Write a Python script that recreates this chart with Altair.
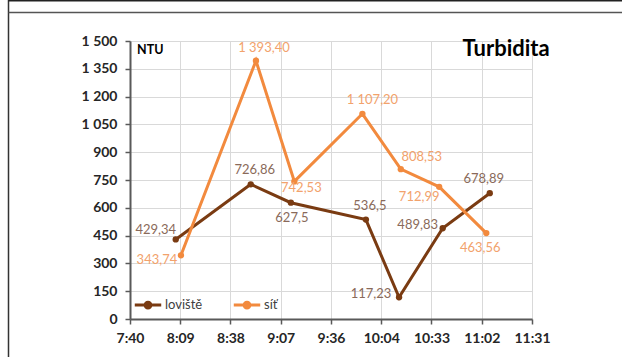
import altair as alt
import pandas as pd

# Sampling times (h:mm) and turbidity readings in NTU
times_loviste = ["8:07", "8:50", "9:13", "9:56", "10:15", "10:40", "11:07"]
values_loviste = [429.34, 726.86, 627.5, 536.5, 117.23, 489.83, 678.89]
labels_loviste = ["429,34", "726,86", "627,5", "536,5", "117,23", "489,83", "678,89"]

times_sit = ["8:10", "8:53", "9:15", "9:54", "10:16", "10:38", "11:05"]
values_sit = [343.74, 1393.40, 742.53, 1107.20, 808.53, 712.99, 463.56]
labels_sit = ["343,74", "1 393,40", "742,53", "1 107,20", "808,53", "712,99", "463,56"]

# Label placement around each point (pixels)
dx_loviste = [-20, 4, 1, 4, -28, -25, -6]
dy_loviste = [-9, -14, 15, -14, -3, -3, -14]
dx_sit = [-24, 8, 7, 10, 21, -20, -6]
dy_sit = [5, -13, 7, -14, -12, 10, 15]

x_tick_labels = ["7:40", "8:09", "8:38", "9:07", "9:36", "10:04", "10:33", "11:02", "11:31"]
y_ticks = [0, 150, 300, 450, 600, 750, 900, 1050, 1200, 1350, 1500]

series_names = ["loviště", "síť"]
series_colors = ["#7a3b12", "#f28a3e"]
label_colors = ["#8a6a5a", "#f2a26c"]


def to_minutes(t):
    h, m = t.split(":")
    return int(h) * 60 + int(m)


rows = []
for name, times, vals, labs in [
    ("loviště", times_loviste, values_loviste, labels_loviste),
    ("síť", times_sit, values_sit, labels_sit),
]:
    for i, (t, v, lab) in enumerate(zip(times, vals, labs)):
        rows.append({"serie": name, "idx": i, "min": to_minutes(t), "ntu": v, "label": lab})
df = pd.DataFrame(rows)

# Time axis: 0.32 .. 0.48 day, major unit 0.02 day (28.8 min)
x_start = 0.32 * 1440
x_step = 0.02 * 1440
x_ticks = [x_start + i * x_step for i in range(len(x_tick_labels))]
label_list = "[" + ",".join(f"'{s}'" for s in x_tick_labels) + "]"

FONT = "Lato"
W, H = 402, 278

axis_style = dict(
    title=None,
    grid=True,
    gridColor="#d9d9d9",
    domainColor="#595959",
    domainWidth=2,
    tickColor="#595959",
    tickWidth=1.5,
    tickSize=5,
    labelFont=FONT,
    labelFontSize=14,
    labelFontWeight="bold",
    labelColor="#262626",
    labelOverlap=False,
    labelFlush=False,
)

x_enc = alt.X(
    "min:Q",
    scale=alt.Scale(domain=[x_ticks[0], x_ticks[-1]], nice=False, zero=False),
    axis=alt.Axis(
        values=x_ticks,
        tickCount=len(x_ticks),
        labelExpr=f"{label_list}[round((datum.value - {x_start}) / {x_step})]",
        labelPadding=7,
        **axis_style,
    ),
)
y_enc = alt.Y(
    "ntu:Q",
    scale=alt.Scale(domain=[0, 1500], nice=False),
    axis=alt.Axis(
        values=y_ticks,
        tickCount=len(y_ticks),
        labelExpr="replace(format(datum.value, ','), ',', ' ')",
        labelPadding=8,
        **axis_style,
    ),
)

color_enc = alt.Color(
    "serie:N",
    scale=alt.Scale(domain=series_names, range=series_colors),
    legend=alt.Legend(
        title=None,
        orient="none",
        legendX=3,
        legendY=249,
        direction="horizontal",
        symbolType="M-1,0H1M-0.22,0A0.22,0.22 0 1,1 0.22,0A0.22,0.22 0 1,1 -0.22,0",
        symbolSize=700,
        symbolStrokeWidth=3,
        labelFont=FONT,
        labelFontSize=13,
        labelColor="#404040",
        labelOffset=2,
        columnPadding=24,
    ),
)

base = alt.Chart(df)

lines = base.mark_line(strokeWidth=3, point=alt.OverlayMarkDef(filled=True, size=40)).encode(
    x=x_enc, y=y_enc, color=color_enc
)

# One text layer per data label, each with its own offset
label_layers = []
for name, col, dxs, dys in [
    ("loviště", label_colors[0], dx_loviste, dy_loviste),
    ("síť", label_colors[1], dx_sit, dy_sit),
]:
    for i, (dx, dy) in enumerate(zip(dxs, dys)):
        label_layers.append(
            base.mark_text(font=FONT, fontSize=13, color=col, dx=dx, dy=dy)
            .encode(x=x_enc, y=y_enc, text="label:N")
            .transform_filter((alt.datum.serie == name) & (alt.datum.idx == i))
        )

one = pd.DataFrame({"k": [0]})

title_text = alt.Chart(one).mark_text(
    font=FONT, fontSize=22, fontWeight="bold", align="center", baseline="alphabetic", color="#000000"
).encode(x=alt.value(376), y=alt.value(15), text=alt.value("Turbidita"))

unit_text = alt.Chart(one).mark_text(
    font=FONT, fontSize=12.5, fontWeight="bold", align="left", baseline="alphabetic", color="#000000"
).encode(x=alt.value(7), y=alt.value(13), text=alt.value("NTU"))

# Outer frame lines of the figure
frame_left = alt.Chart(one).mark_rule(color="#333333", strokeWidth=1.5).encode(
    x=alt.value(-121.5), y=alt.value(-41), y2=alt.value(320)
)
frame_top = alt.Chart(one).mark_rule(color="#222222", strokeWidth=2).encode(
    x=alt.value(-121.5), x2=alt.value(492), y=alt.value(-40.5)
)
frame_head = alt.Chart(one).mark_rule(color="#555555", strokeWidth=1.5).encode(
    x=alt.value(-121.5), x2=alt.value(492), y=alt.value(-28.5)
)

chart = (
    alt.layer(lines, *label_layers, title_text, unit_text, frame_left, frame_top, frame_head)
    .properties(
        width=W,
        height=H,
        autosize=alt.AutoSizeParams(type="none"),
        padding={"left": 130, "top": 41, "right": 90, "bottom": 38},
        background="#ffffff",
    )
    .configure_view(stroke="#d9d9d9")
)

chart.save("out.html", embed_options={"renderer": "svg", "actions": False})
